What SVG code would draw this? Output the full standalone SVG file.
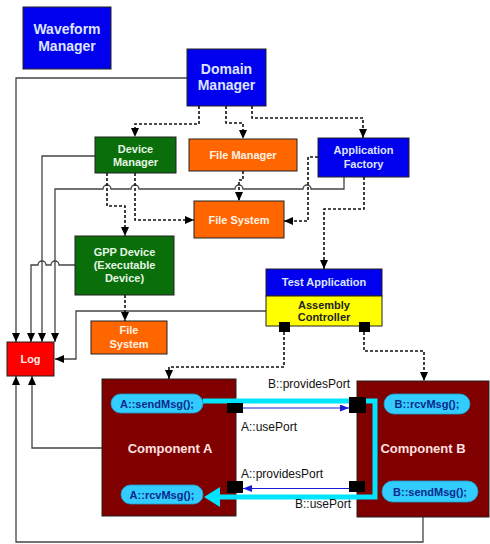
<svg xmlns="http://www.w3.org/2000/svg" width="490" height="544" viewBox="0 0 490 544">
<style>
.t{font-family:"Liberation Sans",Arial,sans-serif;font-weight:bold;text-anchor:middle}
.lb{font-family:"Liberation Sans",Arial,sans-serif;font-size:12px;fill:#111}
.box{stroke:#222;stroke-width:1}
.dash{fill:none;stroke:#111;stroke-width:1.6;stroke-dasharray:3 2}
.sol{fill:none;stroke:#444;stroke-width:1.3}
.pill{fill:#33ccff;stroke:#1aa0d0;stroke-width:0.8}
.pt{font-family:"Liberation Sans",Arial,sans-serif;font-weight:bold;font-size:11px;fill:#0a2a8a;text-anchor:middle}
.port{fill:#000}
</style>
<defs>
<marker id="ah" markerUnits="userSpaceOnUse" markerWidth="9" markerHeight="8" refX="9" refY="4" orient="auto">
<path d="M0,0 L9,4 L0,8 z" fill="#000"/>
</marker>
<marker id="bh" markerUnits="userSpaceOnUse" markerWidth="9" markerHeight="7" refX="9" refY="3.5" orient="auto">
<path d="M0,0 L9,3.5 L0,7 z" fill="#1a1ad8"/>
</marker>
</defs>
<rect width="490" height="544" fill="#fff"/>
<g id="connectors">
<path class="sol" d="M187,78 H16 V342" marker-end="url(#ah)"/>
<path class="sol" d="M95,156 H42 V342" marker-end="url(#ah)"/>
<path class="sol" d="M344,177 V189 H311 A4,4 0 0 0 303,189 H243 A4,4 0 0 0 235,189 H139 A4,4 0 0 0 131,189 H111 A4,4 0 0 0 103,189 H55 V342" marker-end="url(#ah)"/>
<path class="sol" d="M75,265 H59 A4,4 0 0 0 51,265 H46 A4,4 0 0 0 38,265 H31 V342" marker-end="url(#ah)"/>
<path class="sol" d="M266,311 H76 V359 H55" marker-end="url(#ah)"/>
<path class="sol" d="M102,448 H32 V376" marker-end="url(#ah)"/>
<path class="sol" d="M423,517 V542 H16 V376" marker-end="url(#ah)"/>
<path class="dash" d="M199,106 V124 H135 V137" marker-end="url(#ah)"/>
<path class="dash" d="M226,106 V123 H243 V139" marker-end="url(#ah)"/>
<path class="dash" d="M252,106 V118 H363 V138" marker-end="url(#ah)"/>
<path class="dash" d="M107,173 V206 H125 V236" marker-end="url(#ah)"/>
<path class="dash" d="M135,173 V220 H194" marker-end="url(#ah)"/>
<path class="dash" d="M243,171 V180 H239 V201" marker-end="url(#ah)"/>
<path class="dash" d="M318,157 H308 V221 H284" marker-end="url(#ah)"/>
<path class="dash" d="M364,177 V209 H324 V269" marker-end="url(#ah)"/>
<path class="dash" d="M125,295 V321" marker-end="url(#ah)"/>
<path class="dash" d="M284,332 V367 H169 V379" marker-end="url(#ah)"/>
<path class="dash" d="M364,332 V351 H424 V381" marker-end="url(#ah)"/>
</g>
<g id="waveform-manager">
<rect class="box" x="23" y="7" width="88" height="62" fill="#0000ee"/>
<text class="t" x="67" y="34" font-size="14" fill="#dde4ff">Waveform</text>
<text class="t" x="67" y="51" font-size="14" fill="#dde4ff">Manager</text>
</g>
<g id="domain-manager">
<rect class="box" x="187" y="49" width="79" height="57" fill="#0000ee"/>
<text class="t" x="226.5" y="74" font-size="14" fill="#dde4ff">Domain</text>
<text class="t" x="226.5" y="90" font-size="14" fill="#dde4ff">Manager</text>
</g>
<g id="device-manager">
<rect class="box" x="95" y="137" width="81" height="36" fill="#0a6e0a"/>
<text class="t" x="135.5" y="153" font-size="11" fill="#e4f6e4">Device</text>
<text class="t" x="135.5" y="166" font-size="11" fill="#e4f6e4">Manager</text>
</g>
<g id="file-manager">
<rect class="box" x="189" y="139" width="108" height="32" fill="#ff6600"/>
<text class="t" x="243" y="159" font-size="11" fill="#fff2e6">File Manager</text>
</g>
<g id="application-factory">
<rect class="box" x="318" y="138" width="91" height="39" fill="#0000ee"/>
<text class="t" x="363.5" y="154" font-size="11" fill="#dde4ff">Application</text>
<text class="t" x="363.5" y="168" font-size="11" fill="#dde4ff">Factory</text>
</g>
<g id="file-system">
<rect class="box" x="194" y="201" width="90" height="37" fill="#ff6600"/>
<text class="t" x="239" y="224" font-size="11" fill="#fff2e6">File System</text>
</g>
<g id="gpp-device">
<rect class="box" x="75" y="236" width="99" height="59" fill="#0a6e0a"/>
<text class="t" x="124.5" y="256" font-size="11" fill="#e4f6e4">GPP Device</text>
<text class="t" x="124.5" y="269" font-size="11" fill="#e4f6e4">(Executable</text>
<text class="t" x="124.5" y="282" font-size="11" fill="#e4f6e4">Device)</text>
</g>
<g id="file-system-2">
<rect class="box" x="91" y="321" width="76" height="33" fill="#ff6600"/>
<text class="t" x="129" y="334" font-size="11" fill="#fff2e6">File</text>
<text class="t" x="129" y="348" font-size="11" fill="#fff2e6">System</text>
</g>
<g id="log">
<rect class="box" x="7" y="342" width="47" height="34" fill="#ff0000"/>
<text class="t" x="30.5" y="363" font-size="11" fill="#ffe8e8">Log</text>
</g>
<g id="test-application">
<rect class="box" x="266" y="269" width="116" height="27" fill="#0000ee"/>
<text class="t" x="324" y="286" font-size="11" fill="#dde4ff">Test Application</text>
<rect class="box" x="266" y="296" width="116" height="30" fill="#ffff00"/>
<text class="t" x="324" y="309" font-size="11" fill="#222">Assembly</text>
<text class="t" x="324" y="321" font-size="11" fill="#222">Controller</text>
<rect class="port" x="279" y="322" width="11" height="10"/>
<rect class="port" x="359" y="322" width="11" height="10"/>
</g>
<g id="component-a">
<rect class="box" x="102" y="379" width="134" height="137" fill="#800000"/>
<text class="t" x="170" y="453" font-size="13" fill="#ffe0e0">Component A</text>
<rect class="pill" x="111" y="394" width="92" height="19" rx="9.5"/>
<text class="pt" x="157" y="407.5">A::sendMsg();</text>
<rect class="pill" x="121" y="485" width="82" height="19" rx="9.5"/>
<text class="pt" x="162" y="498.5">A::rcvMsg();</text>
</g>
<g id="component-b">
<rect class="box" x="357" y="381" width="132" height="136" fill="#800000"/>
<text class="t" x="423" y="453" font-size="13" fill="#ffe0e0">Component B</text>
<rect class="pill" x="384" y="394" width="86" height="20" rx="10"/>
<text class="pt" x="427" y="408">B::rcvMsg();</text>
<rect class="pill" x="382" y="481" width="96" height="21" rx="10.5"/>
<text class="pt" x="430" y="495.5">B::sendMsg();</text>
</g>
<g id="message-flow">
<path d="M203,401 H375 V497 H217" fill="none" stroke="#00e5ff" stroke-width="5"/>
<polygon points="204,497 220,487 220,507" fill="#00e5ff"/>
<rect class="port" x="227" y="403" width="16" height="10"/>
<rect class="port" x="349" y="397" width="17" height="16"/>
<rect class="port" x="227" y="481" width="16" height="12"/>
<rect class="port" x="349" y="481" width="16" height="11"/>
<path d="M243,408 H349" stroke="#1a1ad8" stroke-width="1" marker-end="url(#bh)"/>
<path d="M349,488.5 H243" stroke="#1a1ad8" stroke-width="1" marker-end="url(#bh)"/>
<text class="lb" x="268" y="388">B::providesPort</text>
<text class="lb" x="241" y="431">A::usePort</text>
<text class="lb" x="241" y="478">A::providesPort</text>
<text class="lb" x="295" y="508">B::usePort</text>
</g>
</svg>
